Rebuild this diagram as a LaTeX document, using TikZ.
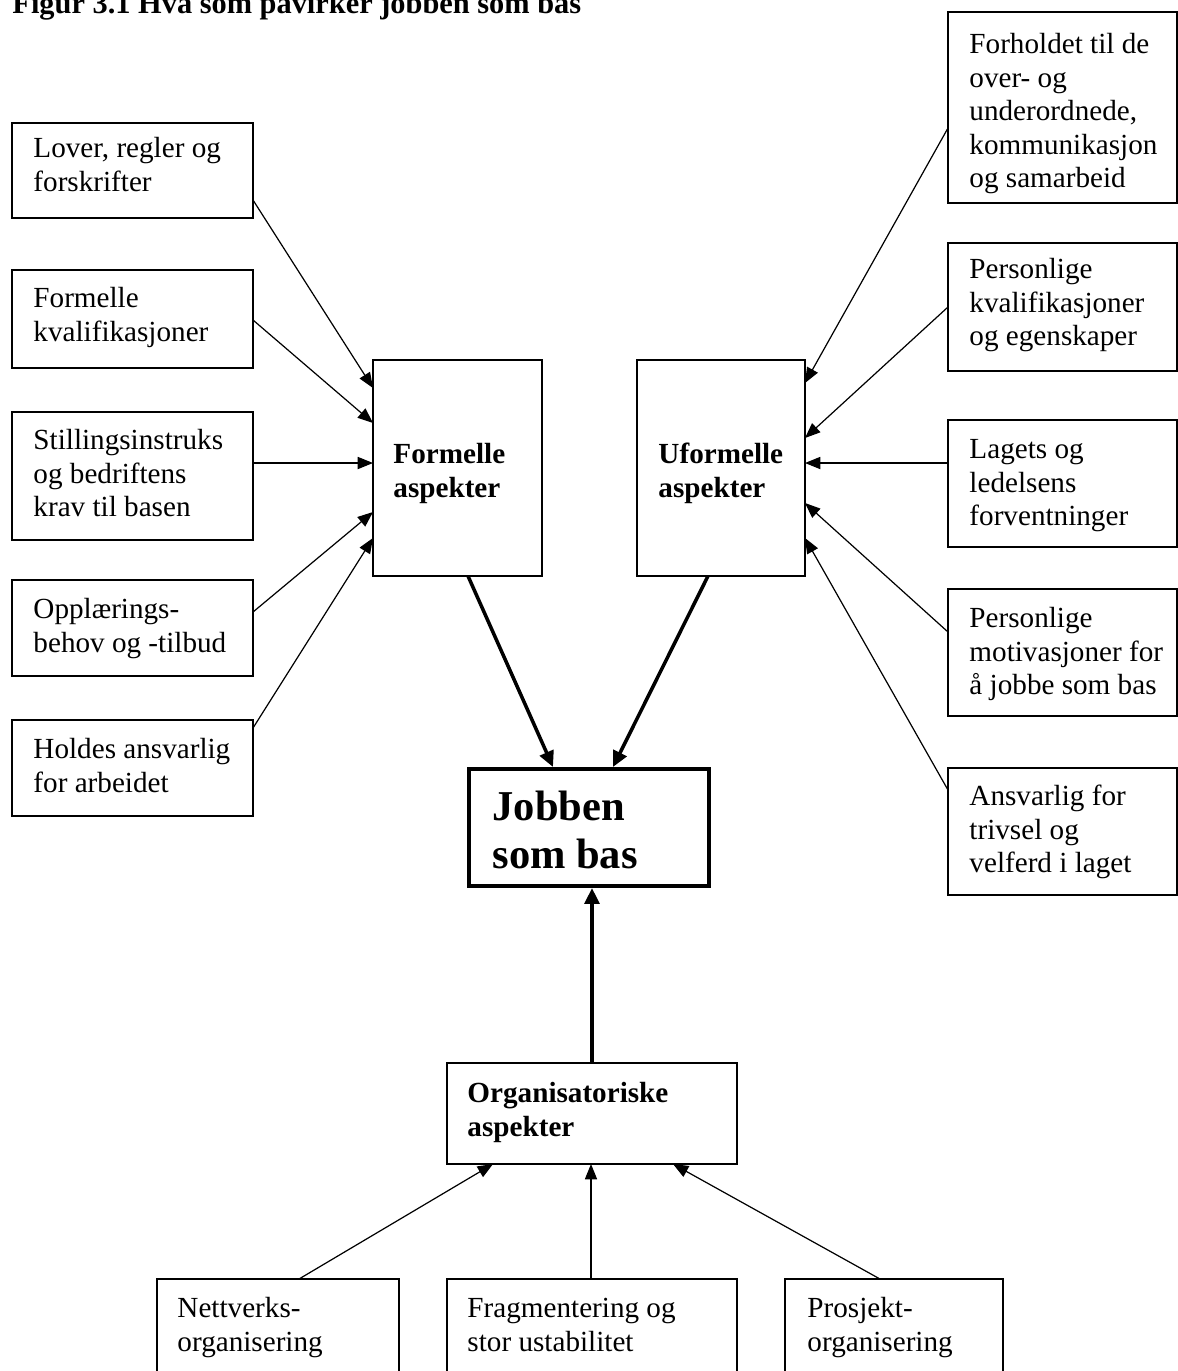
\documentclass[tikz,border=0pt]{standalone}
\usepackage{fontspec}
\setmainfont{Liberation Serif}
\usetikzlibrary{calc,arrows.meta}
\begin{document}
\begin{tikzpicture}[x=0.4115pt,y=-0.4115pt,
  box/.style n args={2}{draw, line width=0.55pt, anchor=north west, inner sep=0pt, outer sep=0pt,
     minimum width=#1*0.4115pt, minimum height=#2*0.4115pt},
  txt/.style={anchor=north west, inner sep=0pt, align=left, font=\fontsize{12}{13.8}\selectfont},
  btxt/.style={anchor=north west, inner sep=0pt, align=left, font=\fontsize{12}{13.8}\selectfont\bfseries},
  conn/.style={line width=0.5pt, -{Triangle[length=6.3pt,width=5pt]}},
  tconn/.style={line width=1.45pt, -{Triangle[length=6.5pt,width=6pt]}}
]
\clip (0,0) rectangle (1178,1371);

% title
\node[anchor=north west, inner sep=0pt, font=\fontsize{12.5}{14}\selectfont\bfseries] (title) at (12,-11.3) {\strut Figur 3.1 Hva som påvirker jobben som bas};

% left boxes
\node[box={241}{95}] (lover) at (12,123) {};
\node[box={241}{98}] (fkval) at (12,270) {};
\node[box={241}{128}] (still) at (12,412) {};
\node[box={241}{96}] (oppl) at (12,580) {};
\node[box={241}{96}] (hold) at (12,720) {};
\node[txt] (lover-t) at (33,133.5) {\strut Lover, regler og\\forskrifter};
\node[txt] (fkval-t) at (33,283.5) {\strut Formelle\\kvalifikasjoner};
\node[txt] (still-t) at (33,425.5) {\strut Stillingsinstruks\\og bedriftens\\krav til basen};
\node[txt] (oppl-t) at (33,594.5) {\strut Opplærings-\\behov og -tilbud};
\node[txt] (hold-t) at (33,734.5) {\strut Holdes ansvarlig\\for arbeidet};

% aspect boxes
\node[box={169}{216}] (fa) at (373,360) {};
\node[box={168}{216}] (ua) at (637,360) {};
\node[btxt] (fa-t) at (393,439.5) {\strut Formelle\\aspekter};
\node[btxt] (ua-t) at (658,439.5) {\strut Uformelle\\aspekter};

% right boxes
\node[box={229}{191}] (forh) at (948,12) {};
\node[box={229}{128}] (pkval) at (948,243) {};
\node[box={229}{127}] (lag) at (948,420) {};
\node[box={229}{127}] (pmot) at (948,589) {};
\node[box={229}{127}] (ansv) at (948,768) {};
\node[txt] (forh-t) at (969,29.5) {\strut Forholdet til de\\over- og\\underordnede,\\kommunikasjon\\og samarbeid};
\node[txt] (pkval-t) at (969,254.5) {\strut Personlige\\kvalifikasjoner\\og egenskaper};
\node[txt] (lag-t) at (969,434.5) {\strut Lagets og\\ledelsens\\forventninger};
\node[txt] (pmot-t) at (969,603.5) {\strut Personlige\\motivasjoner for\\å jobbe som bas};
\node[txt] (ansv-t) at (969,781.5) {\strut Ansvarlig for\\trivsel og\\velferd i laget};

% central box
\node[box={240}{117}, line width=1.85pt] (job) at (469,769) {};
\node[anchor=north west, inner sep=0pt, align=left, font=\fontsize{17.5}{19.75}\selectfont\bfseries] (job-t) at (492,786.4) {\strut Jobben\\som bas};

% organisational
\node[box={290}{101}] (org) at (447,1063) {};
\node[btxt] (org-t) at (467,1078.5) {\strut Organisatoriske\\aspekter};

% bottom boxes
\node[box={242}{130}] (net) at (157,1279) {};
\node[box={290}{130}] (frag) at (447,1279) {};
\node[box={218}{130}] (pros) at (785,1279) {};
\node[txt] (net-t) at (177,1293.5) {\strut Nettverks-\\organisering};
\node[txt] (frag-t) at (467,1293.5) {\strut Fragmentering og\\stor ustabilitet};
\node[txt] (pros-t) at (807,1293.5) {\strut Prosjekt-\\organisering};

% left connectors
\draw[conn] ($(lover.north east)+(0,77)$) -- ($(fa.north west)+(0,28)$);
\draw[conn] ($(fkval.north east)+(0,50)$) -- ($(fa.north west)+(0,63)$);
\draw[conn] ($(still.north east)+(0,51)$) -- ($(fa.north west)+(0,103)$);
\draw[conn] ($(oppl.north east)+(0,32)$) -- ($(fa.north west)+(0,152)$);
\draw[conn] ($(hold.north east)+(0,8)$) -- ($(fa.north west)+(0,178)$);

% right connectors
\draw[conn] ($(forh.north west)+(0,116)$) -- ($(ua.north east)+(0,23)$);
\draw[conn] ($(pkval.north west)+(0,64)$) -- ($(ua.north east)+(0,78)$);
\draw[conn] ($(lag.north west)+(0,43)$) -- ($(ua.north east)+(0,103)$);
\draw[conn] ($(pmot.north west)+(0,43)$) -- ($(ua.north east)+(0,143)$);
\draw[conn] ($(ansv.north west)+(0,22)$) -- ($(ua.north east)+(0,178)$);

% thick connectors
\draw[tconn] ($(fa.south west)+(95,0)$) -- ($(job.north west)+(84,-2)$);
\draw[tconn] ($(ua.south west)+(71,0)$) -- ($(job.north west)+(144,-2)$);
\draw[tconn] ($(org.north west)+(145,0)$) -- ($(job.south west)+(123,2)$);

% bottom connectors
\draw[conn] ($(net.north west)+(142,0)$) -- ($(org.south west)+(46,0)$);
\draw[conn] ($(frag.north west)+(144,0)$) -- ($(org.south west)+(144,0)$);
\draw[conn] ($(pros.north west)+(95,0)$) -- ($(org.south west)+(226,0)$);
\end{tikzpicture}
\end{document}
